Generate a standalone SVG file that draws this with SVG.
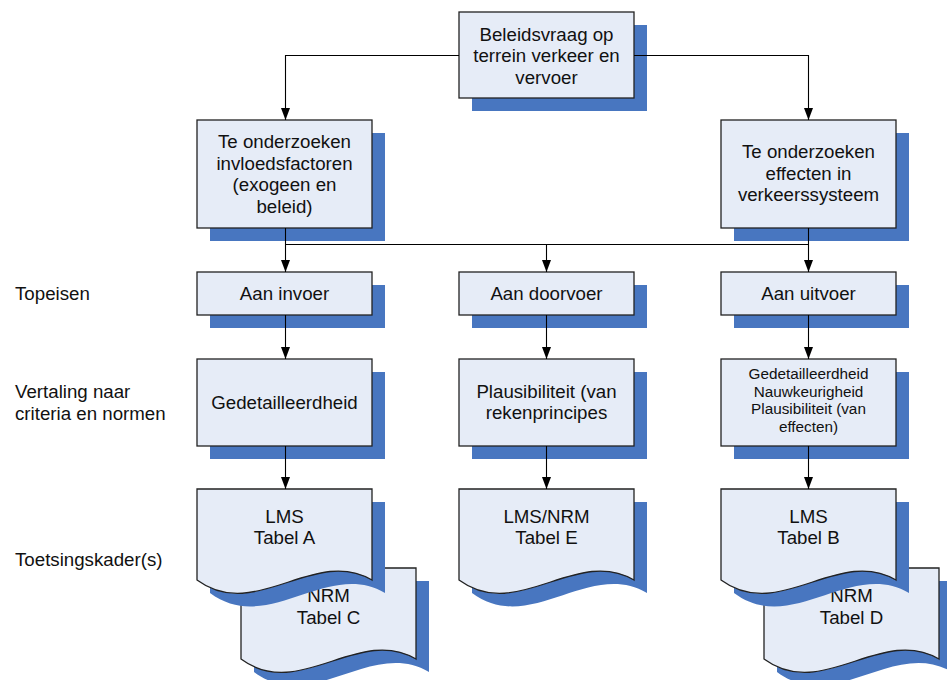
<svg xmlns="http://www.w3.org/2000/svg" width="947" height="680" viewBox="0 0 947 680">
<style>
.box{fill:#E6ECF7;stroke:#222;stroke-width:1.3}
.sh{fill:#4876C0;stroke:none}
.t{font-family:"Liberation Sans",Arial,sans-serif;font-size:18.7px;fill:#111;text-anchor:middle}
.ts{font-family:"Liberation Sans",Arial,sans-serif;font-size:15.3px;fill:#111;text-anchor:middle}
.lb{font-family:"Liberation Sans",Arial,sans-serif;font-size:18.7px;fill:#111}
.c{fill:none;stroke:#000;stroke-width:1.1}
</style>
<defs>
<marker id="ah" markerUnits="userSpaceOnUse" markerWidth="12" markerHeight="10" refX="12" refY="4.5" orient="auto">
<path d="M0,0 L12,4.5 L0,9 z" fill="#000"/>
</marker>
<path id="doc" d="M0,0 H175 V91 C117,57 58,134 0,91 Z"/>
</defs>
<rect width="947" height="680" fill="#fff"/>

<g id="labels">
<text class="lb" x="15" y="300">Topeisen</text>
<text class="lb" x="15" y="398">Vertaling naar</text>
<text class="lb" x="15" y="420">criteria en normen</text>
<text class="lb" x="15" y="566">Toetsingskader(s)</text>
</g>

<g id="n-beleidsvraag">
<rect class="sh" x="472" y="25" width="175" height="86"/>
<rect class="box" x="459" y="12" width="175" height="86"/>
<text class="t" x="546.5" y="40.5">Beleidsvraag op</text>
<text class="t" x="546.5" y="62">terrein verkeer en</text>
<text class="t" x="546.5" y="83.5">vervoer</text>
</g>

<g id="n-invloedsfactoren">
<rect class="sh" x="210" y="133" width="175" height="108"/>
<rect class="box" x="197" y="120" width="175" height="108"/>
<text class="t" x="284.5" y="148">Te onderzoeken</text>
<text class="t" x="284.5" y="169.5">invloedsfactoren</text>
<text class="t" x="284.5" y="191">(exogeen en</text>
<text class="t" x="284.5" y="212.5">beleid)</text>
</g>

<g id="n-effecten">
<rect class="sh" x="734" y="133" width="175" height="108"/>
<rect class="box" x="721" y="120" width="175" height="108"/>
<text class="t" x="808.5" y="158">Te onderzoeken</text>
<text class="t" x="808.5" y="179.5">effecten in</text>
<text class="t" x="808.5" y="201">verkeerssysteem</text>
</g>

<g id="n-invoer">
<rect class="sh" x="210" y="285" width="175" height="43"/>
<rect class="box" x="197" y="272" width="175" height="43"/>
<text class="t" x="284.5" y="300">Aan invoer</text>
</g>
<g id="n-doorvoer">
<rect class="sh" x="472" y="285" width="175" height="43"/>
<rect class="box" x="459" y="272" width="175" height="43"/>
<text class="t" x="546.5" y="300">Aan doorvoer</text>
</g>
<g id="n-uitvoer">
<rect class="sh" x="734" y="285" width="175" height="43"/>
<rect class="box" x="721" y="272" width="175" height="43"/>
<text class="t" x="808.5" y="300">Aan uitvoer</text>
</g>

<g id="n-gedetailleerdheid">
<rect class="sh" x="210" y="372" width="175" height="87"/>
<rect class="box" x="197" y="359" width="175" height="87"/>
<text class="t" x="284.5" y="409">Gedetailleerdheid</text>
</g>
<g id="n-plausibiliteit">
<rect class="sh" x="472" y="372" width="175" height="87"/>
<rect class="box" x="459" y="359" width="175" height="87"/>
<text class="t" x="546.5" y="398">Plausibiliteit (van</text>
<text class="t" x="546.5" y="419">rekenprincipes</text>
</g>
<g id="n-criteria-uitvoer">
<rect class="sh" x="734" y="372" width="175" height="87"/>
<rect class="box" x="721" y="359" width="175" height="87"/>
<text class="ts" x="808.5" y="379">Gedetailleerdheid</text>
<text class="ts" x="808.5" y="396.5">Nauwkeurigheid</text>
<text class="ts" x="808.5" y="414">Plausibiliteit (van</text>
<text class="ts" x="808.5" y="431.5">effecten)</text>
</g>

<g id="n-nrm-c">
<use href="#doc" class="sh" x="254" y="581"/>
<use href="#doc" class="box" x="241" y="568"/>
<text class="t" x="328.5" y="602">NRM</text>
<text class="t" x="328.5" y="624">Tabel C</text>
</g>
<g id="n-lms-a">
<use href="#doc" class="sh" x="210" y="502"/>
<use href="#doc" class="box" x="197" y="489"/>
<text class="t" x="284.5" y="523">LMS</text>
<text class="t" x="284.5" y="544">Tabel A</text>
</g>
<g id="n-lms-nrm-e">
<use href="#doc" class="sh" x="472" y="502"/>
<use href="#doc" class="box" x="459" y="489"/>
<text class="t" x="546.5" y="523">LMS/NRM</text>
<text class="t" x="546.5" y="544">Tabel E</text>
</g>
<g id="n-nrm-d">
<use href="#doc" class="sh" x="777" y="581"/>
<use href="#doc" class="box" x="764" y="568"/>
<text class="t" x="851.5" y="602">NRM</text>
<text class="t" x="851.5" y="624">Tabel D</text>
</g>
<g id="n-lms-b">
<use href="#doc" class="sh" x="734" y="502"/>
<use href="#doc" class="box" x="721" y="489"/>
<text class="t" x="808.5" y="523">LMS</text>
<text class="t" x="808.5" y="544">Tabel B</text>
</g>

<g id="connectors">
<path class="c" d="M459,55.5 H285.5 V120" marker-end="url(#ah)"/>
<path class="c" d="M634,55.5 H808.5 V120" marker-end="url(#ah)"/>
<path class="c" d="M285.5,228 V272" marker-end="url(#ah)"/>
<path class="c" d="M808.5,228 V272" marker-end="url(#ah)"/>
<path class="c" d="M285.5,244.5 H808.5"/>
<path class="c" d="M546.5,244.5 V272" marker-end="url(#ah)"/>
<path class="c" d="M285.5,315 V359" marker-end="url(#ah)"/>
<path class="c" d="M546.5,315 V359" marker-end="url(#ah)"/>
<path class="c" d="M808.5,315 V359" marker-end="url(#ah)"/>
<path class="c" d="M285.5,446 V489" marker-end="url(#ah)"/>
<path class="c" d="M546.5,446 V489" marker-end="url(#ah)"/>
<path class="c" d="M808.5,446 V489" marker-end="url(#ah)"/>
</g>
</svg>
